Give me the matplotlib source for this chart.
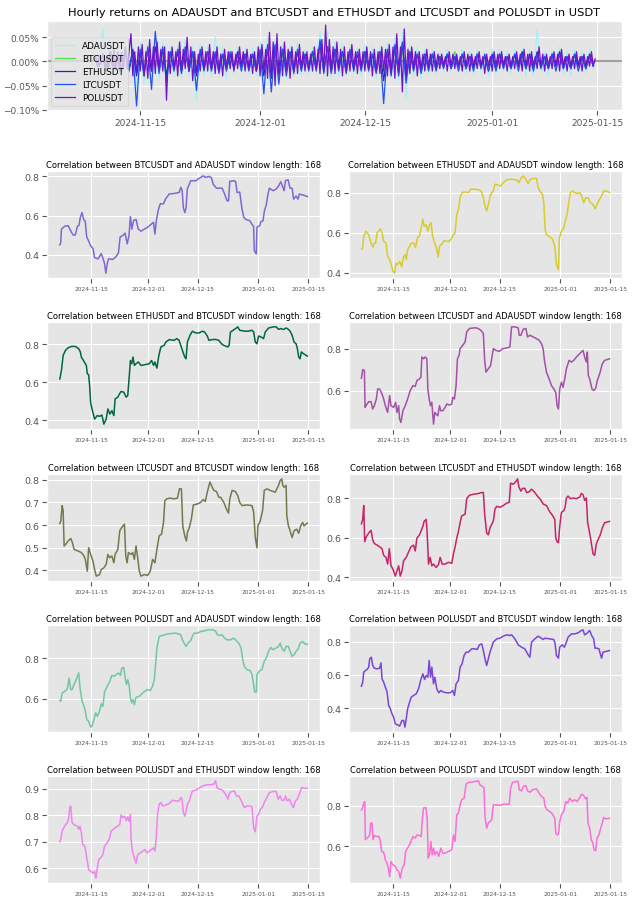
import numpy as np
import pandas as pd
import matplotlib.pyplot as plt
import matplotlib.dates as mdates
from matplotlib.ticker import PercentFormatter, MultipleLocator, MaxNLocator

plt.style.use('ggplot')

# ---------------- data ----------------
assets = ['ADAUSDT', 'BTCUSDT', 'ETHUSDT', 'LTCUSDT', 'POLUSDT']
window = 168

ret_start = '2024-11-09'
ret_step_h = {'ADAUSDT': 12, 'BTCUSDT': 12, 'ETHUSDT': 12, 'LTCUSDT': 12, 'POLUSDT': 6}
ret_ada = [
    0.02, -0.015, 0.067, -0.02, 0.03, -0.025, 0.025, -0.03, 0.03, -0.025, 0.035, -0.057, 0.04, -0.045, 0.035, -0.04, 0.045, -0.035, 0.04, -0.05,
    0.03, -0.03, 0.035, -0.035, 0.045, -0.03, 0.03, -0.083, 0.035, -0.03, 0.03, -0.03, 0.051, -0.025, 0.03, -0.035, 0.025, -0.025, 0.03, -0.02,
    0.025, -0.025, 0.03, -0.03, 0.04, -0.035, 0.05, -0.045, 0.045, -0.04, 0.035, -0.035, 0.03, -0.03, 0.04, -0.03, 0.025, -0.025, 0.03, -0.025,
    0.06, -0.03, 0.063, -0.035, 0.04, -0.03, 0.035, -0.03, 0.03, -0.025, 0.03, -0.03, 0.035, -0.025, 0.03, -0.035, 0.03, -0.03, 0.04, -0.035,
    0.05, -0.04, 0.06, -0.077, 0.035, -0.03, 0.03, -0.035, 0.025, -0.025, 0.025, -0.025, 0.02, -0.02, 0.025, -0.02, 0.02, -0.02, 0.025, -0.025,
    0.02, -0.025, 0.025, -0.02, 0.02, -0.03, 0.025, -0.025, 0.025, -0.02, 0.02, -0.025, 0.025, -0.02, 0.03, -0.03, 0.025, -0.03, 0.067, -0.02,
    0.02, -0.03, 0.025, -0.02, 0.03, -0.025, 0.02, -0.03, 0.025, -0.02, 0.02, -0.025, 0.025, -0.015,
]
ret_btc = [
    0.005, -0.005, 0.01, -0.01, 0.01, -0.01, 0.01, -0.01, 0.015, -0.01, 0.015, -0.02, 0.015, -0.015, 0.02, -0.015, 0.02, -0.015, 0.015, -0.02,
    0.01, -0.01, 0.015, -0.01, 0.015, -0.015, 0.01, -0.02, 0.015, -0.01, 0.01, -0.01, 0.01, -0.01, 0.01, -0.015, 0.01, -0.01, 0.01, -0.01,
    0.01, -0.01, 0.01, -0.01, 0.015, -0.015, 0.02, -0.02, 0.02, -0.02, 0.015, -0.015, 0.01, -0.015, 0.015, -0.01, 0.01, -0.01, 0.01, -0.01,
    0.02, -0.01, 0.015, -0.015, 0.015, -0.01, 0.01, -0.015, 0.015, -0.01, 0.01, -0.01, 0.01, -0.01, 0.01, -0.015, 0.01, -0.025, 0.015, -0.015,
    0.02, -0.015, 0.02, -0.02, 0.01, -0.01, 0.01, -0.01, 0.01, -0.01, 0.01, -0.01, 0.005, -0.01, 0.01, -0.005, 0.02, -0.01, 0.01, -0.01,
    0.01, -0.01, 0.005, -0.01, 0.01, -0.01, 0.01, -0.005, 0.01, -0.01, 0.005, -0.01, 0.01, -0.005, 0.01, -0.01, 0.01, -0.01, 0.01, -0.005,
    0.005, -0.01, 0.01, -0.005, 0.01, -0.01, 0.005, -0.01, 0.01, -0.005, 0.005, -0.01, 0.01, -0.005,
]
ret_eth = [
    0.01, -0.01, 0.015, -0.01, 0.02, -0.015, 0.015, -0.02, 0.02, -0.015, 0.025, -0.03, 0.02, -0.025, 0.025, -0.02, 0.03, -0.02, 0.025, -0.03,
    0.02, -0.015, 0.02, -0.02, 0.025, -0.02, 0.02, -0.03, 0.02, -0.015, 0.02, -0.015, 0.015, -0.02, 0.015, -0.015, 0.015, -0.015, 0.02, -0.01,
    0.015, -0.015, 0.015, -0.02, 0.02, -0.03, 0.03, -0.035, 0.03, -0.03, 0.025, -0.02, 0.02, -0.02, 0.02, -0.015, 0.015, -0.015, 0.02, -0.015,
    0.035, -0.02, 0.03, -0.02, 0.025, -0.015, 0.02, -0.02, 0.02, -0.015, 0.015, -0.015, 0.02, -0.015, 0.015, -0.02, 0.02, -0.04, 0.02, -0.02,
    0.03, -0.025, 0.035, -0.035, 0.02, -0.015, 0.015, -0.02, 0.015, -0.015, 0.015, -0.015, 0.01, -0.01, 0.015, -0.015, 0.01, -0.01, 0.015, -0.015,
    0.01, -0.015, 0.015, -0.01, 0.01, -0.02, 0.015, -0.015, 0.015, -0.01, 0.01, -0.015, 0.015, -0.01, 0.02, -0.015, 0.015, -0.015, 0.02, -0.01,
    0.01, -0.015, 0.015, -0.01, 0.02, -0.015, 0.01, -0.015, 0.015, -0.01, 0.01, -0.015, 0.015, -0.01,
]
ret_ltc = [
    0.01, -0.01, 0.015, -0.02, 0.02, -0.015, 0.02, -0.02, 0.025, -0.02, 0.02, -0.092, 0.025, -0.03, 0.03, -0.058, 0.062, -0.025, 0.03, -0.043,
    0.02, -0.02, 0.025, -0.025, 0.03, -0.02, 0.02, -0.06, 0.025, -0.02, 0.02, -0.02, 0.02, -0.025, 0.015, -0.02, 0.02, -0.015, 0.015, -0.02,
    0.015, -0.02, 0.015, -0.02, 0.025, -0.067, 0.035, -0.063, 0.035, -0.047, 0.025, -0.03, 0.02, -0.025, 0.025, -0.02, 0.015, -0.02, 0.02, -0.02,
    0.045, -0.025, 0.03, -0.025, 0.025, -0.02, 0.02, -0.025, 0.025, -0.02, 0.02, -0.02, 0.02, -0.02, 0.015, -0.025, 0.02, -0.087, 0.025, -0.03,
    0.035, -0.03, 0.04, -0.045, 0.02, -0.02, 0.015, -0.025, 0.015, -0.02, 0.015, -0.02, 0.01, -0.015, 0.015, -0.015, 0.01, -0.02, 0.015, -0.015,
    0.01, -0.02, 0.015, -0.015, 0.015, -0.02, 0.01, -0.02, 0.015, -0.015, 0.01, -0.015, 0.015, -0.02, 0.015, -0.015, 0.01, -0.02, 0.015, -0.015,
    0.01, -0.015, 0.015, -0.02, 0.015, -0.015, 0.01, -0.015, 0.015, -0.02, 0.01, -0.015, 0.01, -0.01,
]
ret_pol = [
    0.008, -0.01, 0.012, -0.006, 0.015, -0.012, 0.01, -0.015, 0.02, -0.01, 0.025, -0.018, 0.015, -0.02, 0.018, -0.012, 0.03, -0.015, 0.02, 0.057,
    -0.03, 0.02, -0.025, 0.03, -0.02, 0.035, -0.03, 0.02, -0.035, 0.045, -0.02, 0.03, -0.025, 0.04, -0.015, 0.025, -0.02, 0.03, -0.08, 0.02,
    -0.025, 0.03, -0.015, 0.02, -0.03, 0.04, -0.02, 0.025, -0.015, 0.05, -0.02, 0.03, -0.04, 0.02, -0.025, 0.015, -0.02, 0.03, -0.015, 0.02,
    -0.02, 0.035, -0.015, 0.02, -0.025, 0.03, -0.02, 0.015, -0.03, 0.025, -0.015, 0.02, -0.015, 0.02, -0.02, 0.015, -0.015, 0.03, -0.01, 0.02,
    -0.02, 0.025, -0.015, 0.015, -0.025, 0.02, -0.02, 0.03, -0.03, 0.035, -0.02, 0.025, -0.035, 0.06, -0.03, 0.04, -0.05, 0.057, -0.025, 0.03,
    -0.03, 0.04, -0.02, 0.025, -0.035, 0.03, -0.02, 0.02, -0.025, 0.035, -0.015, 0.02, -0.02, 0.02, -0.015, 0.015, -0.02, 0.03, -0.015, 0.025,
    -0.025, 0.045, -0.02, 0.075, -0.03, 0.045, -0.02, 0.03, -0.025, 0.04, -0.015, 0.025, -0.03, 0.03, -0.02, 0.02, -0.02, 0.035, -0.015, 0.02,
    -0.025, 0.025, -0.015, 0.02, -0.02, 0.03, -0.015, 0.02, -0.03, 0.025, -0.02, 0.02, -0.025, 0.03, -0.02, 0.025, -0.03, 0.035, -0.025, 0.03,
    -0.035, 0.057, -0.02, 0.03, -0.063, 0.067, -0.03, 0.025, -0.025, 0.03, -0.015, 0.02, -0.03, 0.02, -0.015, 0.015, -0.02, 0.025, -0.01, 0.015,
    -0.02, 0.02, -0.01, 0.015, -0.015, 0.015, -0.01, 0.01, -0.02, 0.02, -0.01, 0.015, -0.015, 0.015, -0.01, 0.01, -0.02, 0.02, -0.01, 0.015,
    -0.02, 0.015, -0.01, 0.01, -0.015, 0.02, -0.01, 0.01, -0.025, 0.015, -0.01, 0.01, -0.02, 0.02, -0.01, 0.015, -0.015, 0.02, -0.01, 0.01,
    -0.02, 0.015, -0.01, 0.01, -0.015, 0.02, -0.01, 0.015, -0.02, 0.025, -0.01, 0.015, -0.02, 0.02, -0.01, 0.01, -0.015, 0.03, -0.01, 0.015,
    -0.02, 0.015, -0.01, 0.01, -0.015, 0.02, -0.01, 0.015, -0.02, 0.025, -0.01, 0.01, -0.02, 0.015, -0.01, 0.01, -0.015, 0.02, -0.01, 0.01,
    -0.02, 0.015, -0.01, 0.01, -0.01, 0.02, -0.01, 0.005,
]
ret_colors = ['#a6f2f2', '#4ee04e', '#2424c8', '#2152f0', '#7212c8']

# rolling correlations (window 168h): (days since 2024-11-06, corr)
corr_start = '2024-11-06'
btc_ada = [
    (0.15, 0.45), (0.4, 0.46), (0.6, 0.53), (1.5, 0.545), (2.5, 0.548), (3.4, 0.515), (3.9, 0.50), (4.5, 0.50), (5.1, 0.545), (5.55, 0.55),
    (5.9, 0.59), (6.4, 0.615), (6.85, 0.58), (7.3, 0.57), (7.7, 0.49), (8.25, 0.47), (8.8, 0.445), (9.5, 0.43), (9.9, 0.385), (10.9, 0.378),
    (11.3, 0.39), (11.8, 0.405), (12.3, 0.38), (12.7, 0.355), (13.1, 0.305), (13.5, 0.355), (13.85, 0.378), (15.05, 0.375), (16.0, 0.39), (16.65, 0.41),
    (17.1, 0.49), (17.85, 0.497), (18.5, 0.51), (19.1, 0.455), (19.6, 0.497), (20.0, 0.595), (20.4, 0.53), (20.9, 0.575), (21.6, 0.58), (22.2, 0.53),
    (23.0, 0.52), (23.9, 0.53), (24.85, 0.54), (25.8, 0.555), (26.5, 0.565), (26.9, 0.505), (27.3, 0.575), (27.8, 0.625), (28.4, 0.66), (29.3, 0.66),
    (29.9, 0.685), (30.9, 0.71), (32.3, 0.713), (33.7, 0.718), (34.2, 0.745), (34.55, 0.727), (34.9, 0.64), (35.3, 0.615), (35.65, 0.64), (36.0, 0.735),
    (36.95, 0.778), (38.4, 0.778), (39.3, 0.79), (40.5, 0.803), (41.15, 0.795), (42.1, 0.80), (42.75, 0.795), (43.3, 0.76), (44.2, 0.74), (45.8, 0.74),
    (46.5, 0.71), (47.2, 0.675), (47.6, 0.675), (47.95, 0.775), (49.1, 0.778), (49.6, 0.773), (50.0, 0.718), (50.75, 0.72), (51.4, 0.633), (51.9, 0.59),
    (52.5, 0.58), (53.6, 0.573), (54.2, 0.555), (54.65, 0.545), (54.85, 0.42), (55.4, 0.403), (55.6, 0.54), (56.35, 0.548), (56.7, 0.568), (57.3, 0.573),
    (57.7, 0.625), (58.2, 0.653), (58.7, 0.71), (59.1, 0.74), (60.1, 0.727), (61.0, 0.735), (61.7, 0.752), (62.3, 0.773), (62.9, 0.744), (63.25, 0.727),
    (63.6, 0.778), (64.35, 0.783), (64.9, 0.74), (65.5, 0.74), (65.9, 0.684), (66.6, 0.70), (67.15, 0.684), (67.5, 0.71), (68.5, 0.705), (69.8, 0.697),
]
eth_ada = [
    (0.03, 0.518), (0.4, 0.523), (0.68, 0.582), (1.34, 0.608), (2.08, 0.59), (2.74, 0.548), (3.3, 0.528), (3.67, 0.548), (4.05, 0.548), (4.42, 0.60),
    (4.89, 0.608), (5.36, 0.62), (5.82, 0.60), (6.29, 0.557), (6.94, 0.548), (7.41, 0.48), (7.97, 0.465), (8.44, 0.44), (8.91, 0.405), (9.37, 0.397),
    (9.75, 0.447), (10.21, 0.44), (10.78, 0.456), (11.34, 0.43), (11.9, 0.48), (12.36, 0.49), (12.64, 0.465), (13.02, 0.515), (13.58, 0.532), (14.05, 0.548),
    (14.7, 0.548), (15.26, 0.527), (15.82, 0.575), (16.38, 0.585), (16.94, 0.633), (17.32, 0.667), (17.69, 0.633), (18.25, 0.64), (18.72, 0.608), (19.19, 0.64),
    (19.65, 0.65), (20.03, 0.582), (20.5, 0.557), (21.24, 0.515), (21.62, 0.478), (21.99, 0.532), (22.64, 0.543), (23.3, 0.56), (24.05, 0.557), (24.79, 0.557),
    (25.45, 0.574), (25.92, 0.59), (26.38, 0.60), (26.85, 0.692), (27.32, 0.717), (27.79, 0.776), (28.35, 0.802), (29.19, 0.805), (30.12, 0.802), (30.78, 0.819),
    (31.99, 0.819), (33.21, 0.815), (33.86, 0.805), (34.33, 0.776), (34.79, 0.734), (35.26, 0.709), (35.73, 0.743), (36.38, 0.793), (37.13, 0.81), (37.6, 0.844),
    (38.53, 0.839), (39.19, 0.835), (39.93, 0.852), (40.87, 0.866), (42.27, 0.869), (43.67, 0.866), (44.33, 0.852), (44.89, 0.873), (45.54, 0.886), (46.29, 0.869),
    (46.94, 0.847), (47.41, 0.866), (48.16, 0.873), (49.28, 0.873), (49.75, 0.827), (50.21, 0.81), (50.96, 0.793), (51.34, 0.751), (51.71, 0.616), (52.08, 0.59),
    (53.02, 0.579), (53.77, 0.569), (54.42, 0.532), (54.89, 0.44), (55.45, 0.414), (55.73, 0.574), (56.29, 0.608), (56.94, 0.624), (57.5, 0.667), (57.88, 0.692),
    (58.35, 0.751), (58.81, 0.802), (59.37, 0.81), (60.03, 0.802), (60.68, 0.797), (61.43, 0.802), (61.99, 0.785), (62.55, 0.751), (63.11, 0.776), (63.77, 0.776),
    (64.42, 0.751), (65.17, 0.743), (65.73, 0.72), (66.29, 0.743), (67.03, 0.768), (67.6, 0.785), (68.16, 0.81), (68.91, 0.81), (69.84, 0.802),
]
eth_btc = [
    (0.15, 0.618), (0.61, 0.663), (1.08, 0.742), (1.73, 0.768), (2.48, 0.782), (3.41, 0.789), (4.53, 0.789), (5.46, 0.777), (5.92, 0.76), (6.2, 0.733),
    (6.95, 0.71), (7.6, 0.689), (7.88, 0.645), (8.25, 0.64), (8.53, 0.583), (8.81, 0.495), (9.19, 0.46), (9.93, 0.407), (10.68, 0.425), (11.33, 0.421),
    (11.98, 0.428), (12.54, 0.38), (13.19, 0.407), (13.66, 0.46), (14.22, 0.433), (14.78, 0.451), (15.34, 0.425), (15.71, 0.513), (16.46, 0.522), (16.92, 0.539),
    (17.39, 0.552), (18.13, 0.548), (18.79, 0.522), (19.25, 0.53), (19.62, 0.618), (20.0, 0.715), (20.37, 0.698), (20.74, 0.733), (21.12, 0.689), (21.58, 0.698),
    (22.23, 0.707), (22.98, 0.689), (24.1, 0.693), (25.31, 0.698), (25.96, 0.715), (26.52, 0.689), (26.89, 0.707), (27.45, 0.675), (28.01, 0.742), (28.57, 0.786),
    (29.5, 0.795), (29.97, 0.812), (30.9, 0.825), (32.3, 0.821), (33.04, 0.83), (33.7, 0.821), (34.16, 0.795), (34.63, 0.768), (35.28, 0.733), (35.65, 0.724),
    (36.03, 0.812), (36.77, 0.848), (37.43, 0.869), (38.36, 0.86), (39.29, 0.86), (40.22, 0.869), (40.87, 0.865), (41.62, 0.844), (42.08, 0.821), (43.02, 0.825),
    (43.95, 0.826), (44.88, 0.821), (45.35, 0.809), (45.91, 0.798), (47.4, 0.786), (47.77, 0.795), (48.14, 0.865), (48.89, 0.874), (49.82, 0.886), (50.19, 0.892),
    (50.75, 0.874), (52.34, 0.869), (53.27, 0.87), (54.2, 0.874), (54.67, 0.865), (55.13, 0.812), (55.6, 0.803), (56.06, 0.844), (56.72, 0.839), (57.46, 0.83),
    (57.93, 0.865), (58.86, 0.886), (60.26, 0.892), (61.0, 0.892), (61.66, 0.879), (62.31, 0.883), (63.06, 0.878), (63.8, 0.886), (64.45, 0.879), (64.92, 0.869),
    (65.48, 0.848), (66.04, 0.812), (66.6, 0.803), (66.97, 0.777), (67.34, 0.733), (67.71, 0.724), (68.09, 0.76), (68.65, 0.751), (69.76, 0.738),
]
ltc_ada = [
    (0.03, 0.659), (0.4, 0.70), (0.87, 0.696), (1.06, 0.52), (1.43, 0.531), (2.08, 0.547), (2.74, 0.547), (3.21, 0.512), (3.67, 0.528), (4.23, 0.56),
    (4.61, 0.608), (5.07, 0.608), (5.36, 0.60), (5.82, 0.584), (6.29, 0.56), (6.76, 0.528), (7.41, 0.496), (7.97, 0.576), (8.35, 0.528), (9.09, 0.52),
    (9.65, 0.544), (10.03, 0.496), (10.5, 0.528), (10.78, 0.464), (11.15, 0.448), (11.71, 0.504), (12.36, 0.528), (13.02, 0.56), (13.77, 0.60), (14.51, 0.624),
    (15.17, 0.62), (15.64, 0.648), (16.38, 0.656), (16.76, 0.664), (17.04, 0.76), (17.5, 0.752), (17.97, 0.76), (18.44, 0.752), (18.72, 0.608), (19.09, 0.56),
    (19.47, 0.528), (19.84, 0.544), (20.31, 0.44), (20.68, 0.496), (21.06, 0.488), (21.52, 0.48), (21.99, 0.528), (22.36, 0.504), (22.93, 0.504), (23.58, 0.52),
    (24.05, 0.536), (24.79, 0.531), (25.45, 0.536), (25.73, 0.568), (26.2, 0.56), (26.66, 0.624), (27.04, 0.752), (27.5, 0.768), (27.79, 0.80), (28.53, 0.816),
    (29.19, 0.832), (29.65, 0.88), (30.4, 0.896), (31.52, 0.899), (32.46, 0.899), (33.21, 0.893), (33.86, 0.883), (34.33, 0.872), (34.7, 0.744), (35.07, 0.688),
    (35.73, 0.704), (36.38, 0.72), (37.13, 0.80), (37.88, 0.792), (38.81, 0.787), (39.75, 0.80), (40.87, 0.803), (41.8, 0.808), (42.27, 0.904), (43.21, 0.904),
    (44.14, 0.899), (44.42, 0.864), (44.89, 0.864), (45.54, 0.893), (46.29, 0.896), (46.76, 0.856), (47.41, 0.864), (48.35, 0.856), (49.28, 0.848), (50.03, 0.84),
    (50.68, 0.824), (51.15, 0.80), (51.52, 0.744), (52.08, 0.688), (52.83, 0.656), (53.49, 0.624), (54.14, 0.608), (54.7, 0.592), (55.07, 0.528), (55.45, 0.512),
    (55.82, 0.608), (56.29, 0.64), (56.76, 0.616), (57.22, 0.656), (57.69, 0.704), (58.44, 0.744), (59.09, 0.736), (59.75, 0.744), (60.5, 0.76), (61.43, 0.776),
    (62.36, 0.792), (62.83, 0.76), (63.3, 0.736), (63.58, 0.784), (63.86, 0.672), (64.23, 0.656), (64.89, 0.608), (65.36, 0.60), (65.92, 0.611), (66.38, 0.648),
    (67.04, 0.68), (67.79, 0.728), (68.44, 0.744), (69.84, 0.752),
]
ltc_btc = [
    (0.15, 0.607), (0.43, 0.619), (0.8, 0.686), (1.08, 0.664), (1.36, 0.508), (1.82, 0.516), (2.48, 0.53), (3.22, 0.541), (3.69, 0.523), (4.15, 0.493),
    (5.27, 0.486), (6.2, 0.479), (6.95, 0.464), (7.32, 0.449), (7.88, 0.397), (8.25, 0.50), (8.81, 0.471), (9.47, 0.441), (9.93, 0.404), (10.4, 0.375),
    (11.33, 0.382), (11.8, 0.404), (12.54, 0.412), (13.19, 0.427), (13.66, 0.471), (14.13, 0.456), (14.78, 0.464), (15.34, 0.434), (15.71, 0.471), (16.46, 0.493),
    (17.01, 0.575), (17.57, 0.59), (18.32, 0.604), (18.69, 0.464), (19.07, 0.434), (19.44, 0.479), (20.18, 0.471), (20.65, 0.479), (21.12, 0.449), (21.58, 0.508),
    (22.05, 0.456), (22.51, 0.397), (22.98, 0.375), (23.91, 0.382), (24.84, 0.378), (25.59, 0.397), (26.24, 0.449), (26.89, 0.434), (27.45, 0.493), (28.1, 0.553),
    (28.76, 0.56), (29.32, 0.612), (29.69, 0.708), (30.25, 0.716), (31.18, 0.719), (32.3, 0.716), (33.23, 0.719), (33.79, 0.76), (34.35, 0.76), (34.72, 0.597),
    (35.28, 0.553), (35.75, 0.53), (36.03, 0.567), (36.59, 0.59), (37.15, 0.627), (37.7, 0.689), (38.82, 0.693), (39.75, 0.70), (40.5, 0.713), (41.06, 0.704),
    (41.62, 0.745), (42.36, 0.79), (43.02, 0.767), (43.48, 0.753), (44.23, 0.748), (44.88, 0.723), (45.35, 0.723), (46.28, 0.70), (47.02, 0.671), (47.58, 0.653),
    (47.96, 0.716), (48.61, 0.753), (49.54, 0.748), (50.19, 0.73), (50.75, 0.70), (51.4, 0.686), (52.8, 0.689), (54.2, 0.686), (54.67, 0.656), (55.13, 0.545),
    (55.6, 0.50), (55.88, 0.597), (56.53, 0.619), (57.18, 0.664), (57.65, 0.753), (58.39, 0.76), (59.33, 0.753), (60.72, 0.745), (61.19, 0.76), (61.66, 0.775),
    (62.12, 0.797), (62.59, 0.804), (62.87, 0.775), (63.24, 0.767), (63.8, 0.775), (63.99, 0.641), (64.45, 0.597), (64.92, 0.575), (65.48, 0.545), (66.04, 0.575),
    (66.78, 0.582), (67.34, 0.564), (67.9, 0.597), (68.46, 0.612), (68.83, 0.597), (69.76, 0.609),
]
ltc_eth = [
    (0.03, 0.67), (0.4, 0.692), (0.68, 0.762), (0.96, 0.579), (1.43, 0.605), (2.08, 0.623), (2.74, 0.637), (3.21, 0.588), (3.67, 0.57), (4.42, 0.562),
    (5.17, 0.553), (5.82, 0.544), (6.29, 0.51), (6.94, 0.50), (7.41, 0.466), (7.88, 0.544), (8.35, 0.457), (8.91, 0.44), (9.56, 0.405), (10.03, 0.431),
    (10.5, 0.457), (10.96, 0.405), (11.43, 0.431), (11.9, 0.483), (12.64, 0.50), (13.3, 0.527), (13.95, 0.553), (14.7, 0.562), (15.17, 0.532), (15.64, 0.597),
    (16.38, 0.614), (16.76, 0.631), (17.32, 0.657), (17.69, 0.683), (18.25, 0.692), (18.53, 0.623), (18.91, 0.466), (19.37, 0.50), (19.84, 0.457), (20.31, 0.466),
    (21.06, 0.449), (21.71, 0.463), (22.18, 0.50), (22.74, 0.466), (23.58, 0.466), (24.51, 0.475), (25.45, 0.47), (25.92, 0.518), (26.38, 0.553), (26.85, 0.597),
    (27.32, 0.631), (27.79, 0.675), (28.25, 0.71), (29.19, 0.718), (29.65, 0.797), (30.4, 0.814), (31.52, 0.819), (32.93, 0.823), (33.86, 0.828), (34.33, 0.828),
    (34.7, 0.718), (35.26, 0.623), (35.73, 0.614), (36.2, 0.649), (36.66, 0.666), (37.13, 0.683), (37.6, 0.744), (38.07, 0.758), (39.0, 0.753), (39.93, 0.762),
    (40.87, 0.774), (41.62, 0.779), (41.99, 0.875), (42.74, 0.87), (43.49, 0.883), (43.95, 0.897), (44.33, 0.857), (44.89, 0.835), (45.36, 0.849), (46.01, 0.849),
    (46.48, 0.828), (47.22, 0.831), (47.88, 0.845), (48.81, 0.828), (49.75, 0.805), (50.4, 0.793), (51.15, 0.77), (52.08, 0.762), (53.02, 0.73), (53.77, 0.713),
    (54.42, 0.692), (54.7, 0.597), (55.07, 0.579), (55.45, 0.574), (55.82, 0.657), (56.29, 0.727), (56.94, 0.736), (57.32, 0.753), (57.69, 0.80), (58.16, 0.81),
    (58.81, 0.797), (59.56, 0.80), (60.5, 0.797), (61.43, 0.805), (61.9, 0.823), (62.36, 0.817), (62.83, 0.788), (63.3, 0.80), (63.67, 0.675), (64.05, 0.64),
    (64.42, 0.605), (64.79, 0.562), (65.17, 0.518), (65.64, 0.51), (66.1, 0.567), (66.57, 0.588), (67.22, 0.614), (67.79, 0.649), (68.44, 0.675), (69.84, 0.682),
]
pol_ada = [
    (0.15, 0.592), (0.43, 0.589), (0.8, 0.629), (1.54, 0.637), (2.29, 0.65), (2.76, 0.702), (3.22, 0.646), (3.59, 0.646), (4.15, 0.67), (4.71, 0.694),
    (5.09, 0.711), (5.46, 0.727), (5.83, 0.654), (6.39, 0.589), (6.95, 0.564), (7.32, 0.54), (7.7, 0.499), (8.25, 0.491), (8.81, 0.462), (9.19, 0.467),
    (9.75, 0.499), (10.21, 0.532), (10.68, 0.515), (11.33, 0.54), (11.8, 0.576), (12.26, 0.564), (12.73, 0.634), (13.47, 0.662), (14.13, 0.683), (14.78, 0.715),
    (15.52, 0.711), (15.99, 0.719), (16.64, 0.727), (17.2, 0.715), (17.57, 0.751), (18.13, 0.754), (18.51, 0.706), (18.88, 0.67), (19.25, 0.694), (19.62, 0.67),
    (20.0, 0.605), (20.37, 0.58), (20.74, 0.597), (21.12, 0.572), (21.58, 0.608), (22.51, 0.613), (23.45, 0.629), (24.66, 0.646), (25.59, 0.641), (26.24, 0.662),
    (26.71, 0.694), (27.08, 0.767), (27.45, 0.849), (28.1, 0.906), (29.04, 0.911), (30.25, 0.917), (31.37, 0.92), (32.77, 0.922), (33.7, 0.917), (34.16, 0.914),
    (34.63, 0.889), (35.1, 0.873), (35.65, 0.857), (36.21, 0.873), (36.96, 0.885), (37.43, 0.906), (37.89, 0.922), (38.82, 0.922), (39.75, 0.93), (40.69, 0.933),
    (41.8, 0.938), (43.02, 0.938), (43.95, 0.933), (44.41, 0.914), (45.16, 0.911), (45.81, 0.914), (46.46, 0.898), (47.21, 0.889), (48.14, 0.889), (49.07, 0.898),
    (49.82, 0.885), (50.47, 0.873), (51.12, 0.849), (51.68, 0.784), (52.06, 0.759), (52.8, 0.743), (53.73, 0.738), (54.2, 0.719), (54.67, 0.67), (54.95, 0.634),
    (55.41, 0.634), (55.6, 0.719), (56.35, 0.738), (57.0, 0.743), (57.65, 0.784), (58.21, 0.80), (58.86, 0.833), (59.51, 0.852), (60.07, 0.841), (61.0, 0.849),
    (61.66, 0.857), (62.12, 0.873), (62.59, 0.849), (63.24, 0.833), (63.8, 0.857), (64.45, 0.857), (64.92, 0.833), (65.48, 0.808), (66.04, 0.816), (66.6, 0.833),
    (67.25, 0.846), (67.71, 0.873), (68.46, 0.881), (69.11, 0.868), (69.76, 0.868),
]
pol_btc = [
    (0.03, 0.532), (0.4, 0.556), (0.68, 0.616), (1.15, 0.626), (1.62, 0.632), (2.08, 0.646), (2.36, 0.696), (2.83, 0.706), (3.21, 0.656), (3.67, 0.64),
    (4.42, 0.636), (5.17, 0.64), (5.54, 0.672), (5.82, 0.576), (6.29, 0.556), (6.76, 0.526), (7.22, 0.50), (7.69, 0.416), (8.16, 0.396), (8.63, 0.366),
    (9.09, 0.346), (9.56, 0.306), (10.21, 0.30), (10.78, 0.292), (11.43, 0.326), (11.9, 0.326), (12.27, 0.286), (12.64, 0.336), (13.02, 0.396), (13.58, 0.436),
    (14.05, 0.466), (14.7, 0.476), (15.45, 0.486), (16.1, 0.516), (16.76, 0.572), (17.32, 0.606), (17.79, 0.572), (18.25, 0.596), (18.72, 0.586), (19.09, 0.686),
    (19.47, 0.586), (19.84, 0.646), (20.31, 0.546), (20.68, 0.586), (21.24, 0.516), (21.8, 0.492), (22.36, 0.506), (23.11, 0.496), (24.05, 0.492), (24.98, 0.492),
    (25.73, 0.506), (26.2, 0.476), (26.66, 0.546), (27.32, 0.566), (27.79, 0.646), (28.35, 0.666), (28.91, 0.716), (29.47, 0.736), (30.12, 0.736), (31.06, 0.756),
    (31.99, 0.756), (32.64, 0.752), (33.21, 0.78), (33.86, 0.786), (34.33, 0.746), (34.79, 0.696), (35.26, 0.656), (35.73, 0.696), (36.2, 0.736), (36.66, 0.766),
    (37.13, 0.796), (38.07, 0.816), (39.0, 0.82), (39.93, 0.832), (40.87, 0.84), (41.62, 0.836), (42.27, 0.84), (43.21, 0.816), (44.14, 0.78), (45.07, 0.766),
    (46.01, 0.756), (46.94, 0.72), (47.41, 0.706), (47.88, 0.796), (48.81, 0.816), (49.75, 0.832), (50.68, 0.82), (51.15, 0.812), (51.62, 0.82), (53.02, 0.816),
    (54.14, 0.812), (54.51, 0.786), (54.89, 0.716), (55.45, 0.70), (55.82, 0.766), (56.48, 0.78), (57.13, 0.766), (57.69, 0.796), (58.16, 0.826), (59.09, 0.846),
    (60.03, 0.846), (60.96, 0.852), (61.9, 0.866), (62.36, 0.87), (62.83, 0.84), (63.3, 0.846), (63.77, 0.856), (64.23, 0.866), (64.79, 0.836), (65.36, 0.816),
    (65.73, 0.76), (66.29, 0.76), (66.85, 0.756), (67.22, 0.726), (67.6, 0.70), (67.97, 0.736), (68.72, 0.74), (69.84, 0.746),
]
pol_eth = [
    (0.15, 0.70), (0.43, 0.709), (0.8, 0.741), (1.36, 0.756), (1.82, 0.766), (2.29, 0.772), (2.66, 0.791), (2.94, 0.829), (3.22, 0.835), (3.59, 0.772),
    (4.34, 0.763), (5.09, 0.759), (5.46, 0.747), (5.83, 0.759), (6.2, 0.734), (6.58, 0.69), (7.14, 0.684), (7.51, 0.658), (7.88, 0.627), (8.25, 0.595),
    (8.81, 0.589), (9.47, 0.582), (9.93, 0.589), (10.3, 0.563), (10.68, 0.601), (11.05, 0.633), (11.61, 0.639), (12.26, 0.652), (12.73, 0.684), (13.47, 0.696),
    (14.13, 0.713), (14.59, 0.741), (15.15, 0.747), (15.71, 0.753), (16.46, 0.759), (17.01, 0.766), (17.39, 0.801), (17.85, 0.791), (18.32, 0.797), (18.88, 0.781),
    (19.25, 0.794), (19.62, 0.778), (20.0, 0.804), (20.18, 0.709), (20.56, 0.665), (21.12, 0.639), (21.58, 0.62), (22.05, 0.652), (22.79, 0.658), (23.45, 0.665),
    (24.1, 0.671), (24.66, 0.658), (25.31, 0.665), (25.96, 0.671), (26.52, 0.677), (26.89, 0.665), (27.27, 0.715), (27.64, 0.804), (28.1, 0.842), (28.57, 0.848),
    (29.13, 0.835), (29.97, 0.839), (30.9, 0.844), (31.83, 0.857), (32.77, 0.854), (33.7, 0.854), (34.16, 0.867), (34.54, 0.861), (34.91, 0.81), (35.28, 0.797),
    (35.65, 0.816), (36.03, 0.842), (36.59, 0.854), (36.96, 0.873), (37.43, 0.892), (38.36, 0.895), (39.29, 0.902), (40.22, 0.91), (41.43, 0.915), (42.55, 0.915),
    (43.48, 0.918), (43.95, 0.93), (44.41, 0.902), (45.16, 0.899), (45.81, 0.895), (46.46, 0.886), (47.02, 0.873), (47.4, 0.861), (47.96, 0.886), (48.61, 0.89),
    (49.26, 0.892), (49.82, 0.873), (50.47, 0.873), (50.94, 0.861), (51.4, 0.848), (52.06, 0.829), (52.8, 0.835), (53.73, 0.835), (54.2, 0.832), (54.67, 0.753),
    (55.13, 0.738), (55.6, 0.797), (56.06, 0.804), (56.53, 0.823), (57.09, 0.829), (57.65, 0.848), (58.39, 0.867), (59.14, 0.886), (60.07, 0.89), (61.0, 0.89),
    (61.56, 0.861), (62.12, 0.873), (62.59, 0.857), (63.24, 0.857), (63.61, 0.873), (64.17, 0.854), (64.73, 0.861), (65.29, 0.842), (65.85, 0.829), (66.41, 0.854),
    (66.97, 0.861), (67.53, 0.88), (68.18, 0.905), (68.83, 0.902), (69.76, 0.902),
]
pol_ltc = [
    (0.03, 0.78), (0.4, 0.792), (0.68, 0.813), (0.96, 0.821), (1.15, 0.633), (1.62, 0.641), (2.08, 0.649), (2.36, 0.657), (2.64, 0.715), (3.02, 0.715),
    (3.3, 0.633), (3.67, 0.654), (4.23, 0.649), (4.98, 0.649), (5.36, 0.625), (5.73, 0.575), (6.29, 0.572), (6.76, 0.534), (7.22, 0.518), (7.6, 0.493),
    (7.97, 0.452), (8.35, 0.526), (8.91, 0.51), (9.56, 0.502), (10.03, 0.485), (10.5, 0.477), (10.96, 0.444), (11.52, 0.493), (12.08, 0.51), (12.46, 0.575),
    (13.02, 0.592), (13.77, 0.616), (14.51, 0.649), (15.17, 0.641), (15.64, 0.657), (16.38, 0.654), (16.85, 0.649), (17.13, 0.723), (17.5, 0.789), (18.16, 0.792),
    (18.53, 0.739), (18.81, 0.543), (19.19, 0.559), (19.56, 0.625), (19.93, 0.559), (20.31, 0.592), (20.68, 0.559), (21.24, 0.575), (21.8, 0.551), (22.36, 0.592),
    (22.93, 0.567), (23.58, 0.567), (24.51, 0.575), (25.45, 0.584), (25.92, 0.657), (26.38, 0.625), (26.85, 0.756), (27.32, 0.764), (27.79, 0.805), (28.25, 0.83),
    (28.91, 0.838), (29.47, 0.907), (30.12, 0.916), (31.06, 0.916), (31.99, 0.92), (32.93, 0.923), (33.39, 0.903), (34.14, 0.895), (34.51, 0.887), (34.79, 0.748),
    (35.26, 0.69), (35.73, 0.715), (36.2, 0.723), (36.66, 0.731), (37.13, 0.805), (38.07, 0.805), (39.0, 0.802), (39.93, 0.808), (40.87, 0.808), (41.62, 0.808),
    (41.99, 0.887), (42.55, 0.916), (43.67, 0.92), (44.14, 0.92), (44.42, 0.879), (45.07, 0.874), (45.54, 0.895), (46.29, 0.90), (46.76, 0.874), (47.41, 0.867),
    (48.16, 0.879), (49.28, 0.884), (50.03, 0.862), (50.68, 0.846), (51.34, 0.838), (51.71, 0.797), (52.27, 0.78), (53.02, 0.772), (53.77, 0.759), (54.42, 0.739),
    (54.7, 0.666), (55.07, 0.657), (55.45, 0.661), (55.82, 0.723), (56.29, 0.756), (56.94, 0.772), (57.5, 0.821), (58.06, 0.813), (58.63, 0.838), (59.37, 0.821),
    (60.03, 0.83), (60.68, 0.821), (61.43, 0.841), (61.99, 0.857), (62.55, 0.851), (63.11, 0.834), (63.49, 0.841), (63.77, 0.715), (64.23, 0.69), (64.7, 0.633),
    (65.17, 0.616), (65.45, 0.584), (65.92, 0.579), (66.29, 0.641), (66.85, 0.657), (67.22, 0.682), (67.79, 0.715), (68.16, 0.743), (68.72, 0.736), (69.84, 0.739),
]

panels = [
    ('BTCUSDT', 'ADAUSDT', btc_ada, '#8068d0'),
    ('ETHUSDT', 'ADAUSDT', eth_ada, '#d8cc2c'),
    ('ETHUSDT', 'BTCUSDT', eth_btc, '#00683c'),
    ('LTCUSDT', 'ADAUSDT', ltc_ada, '#a451a8'),
    ('LTCUSDT', 'BTCUSDT', ltc_btc, '#74784e'),
    ('LTCUSDT', 'ETHUSDT', ltc_eth, '#c52468'),
    ('POLUSDT', 'ADAUSDT', pol_ada, '#72c89e'),
    ('POLUSDT', 'BTCUSDT', pol_btc, '#7b45d6'),
    ('POLUSDT', 'ETHUSDT', pol_eth, '#f084ee'),
    ('POLUSDT', 'LTCUSDT', pol_ltc, '#fb6fd6'),
]

# ---------------- figure ----------------
W, H = 632, 903
fig = plt.figure(figsize=(W / 100, H / 100), dpi=100)


def px_axes(x0, y0, x1, y1, **kw):
    # axes from pixel box (top-left origin)
    return fig.add_axes([x0 / W, 1 - y1 / H, (x1 - x0) / W, (y1 - y0) / H], **kw)


# correlation panels
row_tops = [172, 323, 475, 626, 777]
col_x = [(47, 320), (349, 622)]
corr_axes = []
for i, (a, b, pts, color) in enumerate(panels):
    r, c = divmod(i, 2)
    x0, x1 = col_x[c]
    kw = {'sharex': corr_axes[0]} if corr_axes else {}
    ax = px_axes(x0, row_tops[r], x1, row_tops[r] + 107, **kw)
    days, vals = zip(*pts)
    dates = pd.Timestamp(corr_start) + pd.to_timedelta(np.array(days), unit='D')
    ax.plot(dates, vals, color=color, lw=1.1)
    ax.set_title(f'Correlation between {a} and {b} window length: {window}',
                 fontsize=6.0, pad=3)
    ax.yaxis.set_major_locator(MaxNLocator(nbins=5, steps=[1, 2, 2.5, 5, 10]))
    ax.tick_params(axis='x', labelsize=4.2, pad=2)
    ax.tick_params(axis='y', labelsize=6.8, pad=2)
    corr_axes.append(ax)

# hourly returns panel
ax = px_axes(47, 22, 622, 111, sharex=corr_axes[0])
series = [ret_ada, ret_btc, ret_eth, ret_ltc, ret_pol]
ax.axhline(0, color='#a0a0a0', lw=1.5, zorder=1)
for name, vals, color in zip(assets, series, ret_colors):
    idx = pd.Timestamp(ret_start) + pd.to_timedelta(np.arange(len(vals)) * ret_step_h[name], unit='h')
    ax.plot(idx, vals, color=color, lw=0.9, label=name)
ax.yaxis.set_major_locator(MultipleLocator(0.05))
ax.yaxis.set_major_formatter(PercentFormatter(xmax=100, decimals=2))
ax.set_title('Hourly returns on ' + ' and '.join(assets) + ' in USDT', fontsize=8.2, pad=4)
ax.tick_params(axis='both', labelsize=6.5, pad=2)
ax.legend(loc='lower left', fontsize=6.4, handlelength=2.2, labelspacing=0.45, borderpad=0.4)

corr_axes[0].xaxis.set_major_locator(mdates.DayLocator(bymonthday=[1, 15]))
corr_axes[0].xaxis.set_major_formatter(mdates.DateFormatter('%Y-%m-%d'))

fig.savefig('out.png', dpi=100)
